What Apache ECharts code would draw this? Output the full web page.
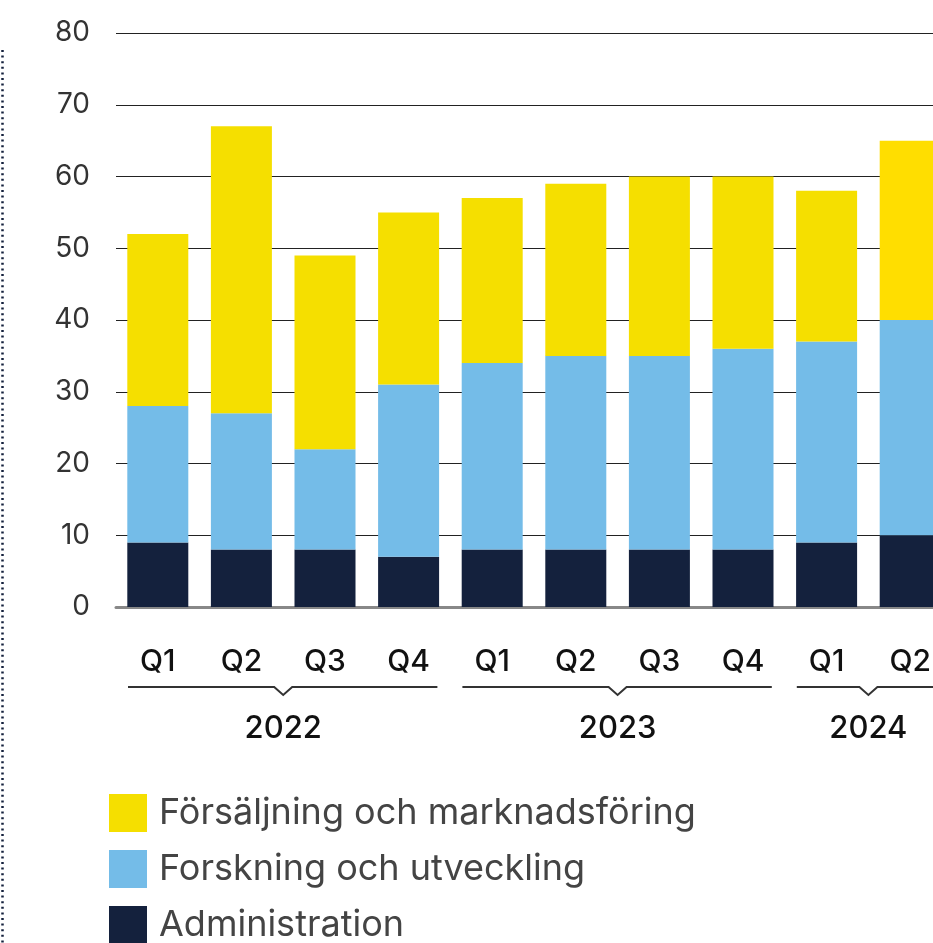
<!DOCTYPE html>
<html>
<head>
<meta charset="utf-8">
<script src="https://cdn.jsdelivr.net/npm/echarts@6/dist/echarts.min.js"></script>
<style>
html,body{margin:0;padding:0;background:#fff;}
#c{width:933px;height:943px;}
</style>
</head>
<body>
<div id="c"></div>
<script>
const quarters = ['Q1','Q2','Q3','Q4','Q1','Q2','Q3','Q4','Q1','Q2'];
const years = [
  {label:'2022', from:0, to:3},
  {label:'2023', from:4, to:7},
  {label:'2024', from:8, to:9}
];
const administration = [9, 8, 8, 7, 8, 8, 8, 8, 9, 10];
const forskning = [19, 19, 14, 24, 26, 27, 27, 28, 28, 30];
const forsaljning = [24, 40, 27, 24, 23, 24, 25, 24, 21, 25];
const yTicks = [0, 10, 20, 30, 40, 50, 60, 70, 80];
const names = ['Försäljning och marknadsföring', 'Forskning och utveckling', 'Administration'];

const FONT = 'Inter, "Noto Sans", sans-serif';
const chart = echarts.init(document.getElementById('c'));

function buildGraphics() {
  const g = [];
  g.push({type:'line', shape:{x1:2.5, y1:50, x2:2.5, y2:943},
    style:{stroke:'#14213D', lineWidth:2.5, lineDash:[2,3.6]}, silent:true});
  const lineY = 687;
  const p0 = chart.convertToPixel({xAxisIndex:0}, 0);
  const p1 = chart.convertToPixel({xAxisIndex:0}, 1);
  const half = (p1 - p0) / 2;
  years.forEach((yr) => {
    const x0 = chart.convertToPixel({xAxisIndex:0}, yr.from);
    const x1 = chart.convertToPixel({xAxisIndex:0}, yr.to);
    const start = x0 - half + 12;
    const end = x1 + half - 13;
    const mid = (x0 + x1) / 2;
    g.push({type:'polyline', shape:{points:[[start,lineY],[mid-9,lineY],[mid,lineY+8],[mid+9,lineY],[end,lineY]]},
      style:{stroke:'#333', lineWidth:2, fill:null}, silent:true});
    g.push({type:'text', x:mid, y:729, style:{text:yr.label, font:'500 31px ' + FONT, fill:'#111',
      textAlign:'center', textVerticalAlign:'middle'}, silent:true});
  });
  return g;
}

chart.setOption({
  animation:false,
  backgroundColor:'#fff',
  grid:{left:116, top:33, width:836, height:574, containLabel:false, outerBoundsMode:'none'},
  legend:{
    orient:'vertical', left:109, top:794, height:300, padding:0,
    itemWidth:38, itemHeight:38, itemGap:18,
    icon:'rect', data:names,
    textStyle:{fontFamily:FONT, fontSize:36, color:'#444', padding:[4,0,0,7]}
  },
  xAxis:{
    type:'category', data:quarters,
    axisLine:{show:true, lineStyle:{color:'#888', width:3}},
    axisTick:{show:false},
    axisLabel:{fontFamily:FONT, fontSize:30, fontWeight:500, color:'#111', margin:40}
  },
  yAxis:{
    type:'value', min:0, max:80, interval:10,
    axisLine:{show:false}, axisTick:{show:false},
    splitLine:{lineStyle:{color:'#222', width:1}},
    axisLabel:{fontFamily:FONT, fontSize:28, color:'#333', margin:26,
      formatter: v => yTicks.includes(v) ? String(v) : ''}
  },
  series:[
    {name:names[2], type:'bar', stack:'s', data:administration, barWidth:61,
      itemStyle:{color:'#14213D'}},
    {name:names[1], type:'bar', stack:'s', data:forskning, barWidth:61,
      itemStyle:{color:'#74BCE8'}},
    {name:names[0], type:'bar', stack:'s', barWidth:61,
      data:forsaljning.map((v,i) => i === 9 ? {value:v, itemStyle:{color:'#FFDE00'}} : v),
      itemStyle:{color:'#F5DF00'}}
  ]
});
chart.setOption({graphic:buildGraphics()});
</script>
</body>
</html>
